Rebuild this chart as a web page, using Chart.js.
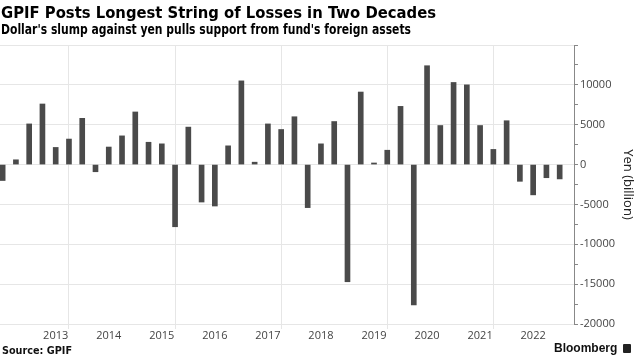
<!DOCTYPE html>
<html><head><meta charset="utf-8">
<script src="https://cdn.jsdelivr.net/npm/chart.js@4.4.0/dist/chart.umd.min.js"></script>
<style>
html,body{margin:0;padding:0;background:#fff;}
#wrap{position:relative;width:634px;height:356px;overflow:hidden;background:#fff;}
canvas{position:absolute;left:0;top:0;}
.t{position:absolute;white-space:nowrap;font-family:"DejaVu Sans";font-weight:bold;color:#000;transform-origin:0 0;}
#title{left:1px;top:4px;font-size:16px;line-height:18px;}
#sub{left:1px;top:21px;font-size:13.5px;line-height:16px;}
#src{left:2px;top:345px;font-size:10px;line-height:12px;color:#111;}
#bb{position:absolute;left:554px;top:341px;font-family:"Liberation Sans";font-weight:bold;font-size:12px;line-height:14px;color:#111;white-space:nowrap;}
#ico{position:absolute;left:623px;top:344px;width:8px;height:9px;background:#222;border-radius:1px;}
</style>
</head><body>
<div id="wrap">
<canvas id="c" width="634" height="356"></canvas>
<div class="t" id="title">GPIF Posts Longest String of Losses in Two Decades</div>
<div class="t" id="sub">Dollar's slump against yen pulls support from fund's foreign assets</div>
<div class="t" id="src">Source: GPIF</div>
<div id="bb">Bloomberg</div>
<div id="ico"></div>
</div>
<script>
// Quarter-end dates of GPIF quarterly investment results
const quarters = [
  "2012-06","2012-09","2012-12",
  "2013-03","2013-06","2013-09","2013-12",
  "2014-03","2014-06","2014-09","2014-12",
  "2015-03","2015-06","2015-09","2015-12",
  "2016-03","2016-06","2016-09","2016-12",
  "2017-03","2017-06","2017-09","2017-12",
  "2018-03","2018-06","2018-09","2018-12",
  "2019-03","2019-06","2019-09","2019-12",
  "2020-03","2020-06","2020-09","2020-12",
  "2021-03","2021-06","2021-09","2021-12",
  "2022-03","2022-06","2022-09","2022-12"
];
// Investment gain/loss, yen (billion)
const gains = [
  -2000, 600, 5100,
  7600, 2150, 3200, 5800,
  -900, 2200, 3600, 6600,
  2800, 2600, -7800, 4700,
  -4700, -5200, 2350, 10500,
  300, 5100, 4400, 6000,
  -5400, 2600, 5400, -14700,
  9100, 200, 1800, 7300,
  -17600, 12400, 4900, 10300,
  10000, 4900, 1900, 5500,
  -2100, -3800, -1650, -1800
];
const yearLabels = ["2013","2014","2015","2016","2017","2018","2019","2020","2021","2022"];
const gridYears = [2014, 2016, 2018, 2020, 2022];
const yTickLabels = [-20000, -15000, -10000, -5000, 0, 5000, 10000];

function toX(q){ const p = q.split('-').map(Number); return p[0] + p[1]/12; }
const labelPos = yearLabels.map(y => Number(y) + 0.5);
const xTicks = labelPos.concat(gridYears).sort((a,b)=>a-b);

new Chart(document.getElementById('c'), {
  type: 'bar',
  data: { datasets: [{
    data: quarters.map((q,i) => ({x: toX(q), y: gains[i]})),
    backgroundColor: '#4a4a4a', borderWidth: 0, barThickness: 5
  }]},
  options: {
    responsive: false, animation: false,
    layout: { padding: { top: 45, left: 0, right: 0, bottom: 0 } },
    plugins: { legend: { display: false }, tooltip: { enabled: false } },
    scales: {
      x: {
        type: 'linear', min: 2012.45, max: 2023.27, offset: false,
        afterBuildTicks(s){ s.ticks = xTicks.map(v => ({value: v})); },
        afterFit(s){ s.height = 32; },
        ticks: {
          autoSkip: false, maxRotation: 0, minRotation: 0, padding: 0,
          color: '#444', font: { family: 'Open Sans', size: 11 },
          callback(v){ const i = labelPos.indexOf(v); return i >= 0 ? yearLabels[i] : ''; }
        },
        grid: {
          color(c){ return c.tick && gridYears.includes(c.tick.value) ? '#e6e6e6' : 'rgba(0,0,0,0)'; },
          tickLength: 5, drawTicks: true
        },
        border: { display: false }
      },
      y: {
        position: 'right', min: -20000, max: 15000,
        afterBuildTicks(s){ const t=[]; for (let v=-20000; v<=15000; v+=2500) t.push({value:v}); s.ticks = t; },
        afterFit(s){ s.width = 60; },
        ticks: {
          padding: 2, color: '#444', font: { family: 'Open Sans', size: 11 },
          callback(v){ return yTickLabels.includes(v) ? String(v) : ''; }
        },
        grid: {
          color(c){ return c.tick && c.tick.value % 5000 === 0 ? '#e6e6e6' : 'rgba(0,0,0,0)'; },
          tickColor: '#888', tickLength: 4, drawTicks: true
        },
        border: { display: true, color: '#888' },
        title: { display: true, text: 'Yen (billion)', color: '#222',
          font: { family: 'Open Sans', size: 13, lineHeight: 1 }, padding: { top: 0, bottom: 0 } }
      }
    }
  }
});

// fit header widths to the reference
function fit(id, w){ const el = document.getElementById(id); const r = el.getBoundingClientRect().width; el.style.transform = 'scaleX(' + (w / r) + ')'; }
fit('title', 435); fit('sub', 410); fit('src', 70);
</script>
</body></html>
